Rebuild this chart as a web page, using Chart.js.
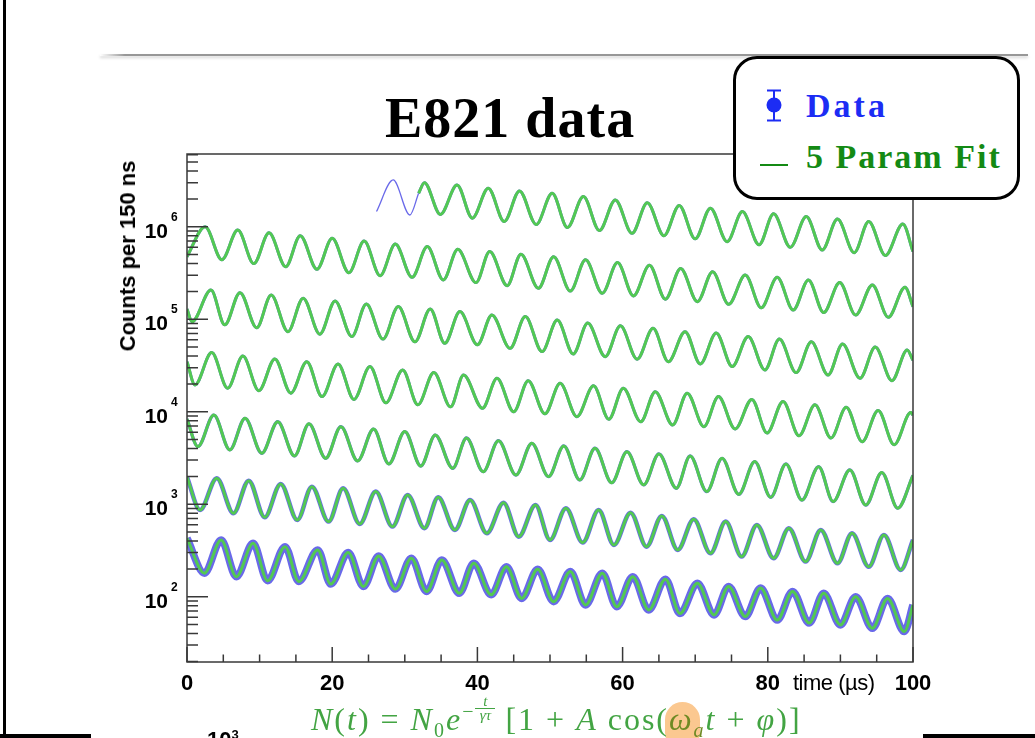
<!doctype html>
<html lang="en">
<head>
<meta charset="utf-8">
<title>E821 data</title>
<script src="https://cdn.jsdelivr.net/npm/chart.js@4.4.1/dist/chart.umd.min.js"></script>
<style>
  html, body { margin: 0; padding: 0; background: #fff; }
  #slide { position: relative; width: 1035px; height: 738px; overflow: hidden; background: #fff; }
  #chart { position: absolute; left: 0; top: 0; }
  .abs { position: absolute; white-space: nowrap; }
  .serif { font-family: "Liberation Serif", "Times New Roman", serif; }
  .sans { font-family: "Liberation Sans", Arial, sans-serif; }
  #title { left: 385px; top: 90px; font-size: 56px; line-height: 56px; font-weight: bold; letter-spacing: 1px; color: #000; }
  #legendBox { left: 733px; top: 56px; width: 287px; height: 144px; box-sizing: border-box; border: 3px solid #000; border-radius: 24px; background: #fff; }
  #legData { left: 806px; top: 89px; font-size: 34px; line-height: 34px; font-weight: bold; letter-spacing: 3px; color: #1c2cf4; }
  #legFit { left: 806px; top: 140px; font-size: 34px; line-height: 34px; font-weight: bold; letter-spacing: 2px; color: #148a14; }
  #legLine { left: 760px; top: 164px; width: 28px; height: 2px; background: #148a14; }
  #ytitle { left: 128px; top: 256px; font-size: 22px; line-height: 22px; font-weight: bold; transform: translate(-50%, -50%) rotate(-90deg); }
  #xtitle { left: 793px; top: 672px; font-size: 22px; line-height: 22px; letter-spacing: -0.5px; }
  #formula { left: 311px; top: 703px; font-size: 32px; line-height: 32px; color: #43a443; letter-spacing: 2px; }
  #formula sub, #formula sup { line-height: 0; font-size: 20px; }
  #formula .frac { display: inline-block; position: relative; width: 20px; height: 0; vertical-align: baseline; }
  #formula .frac span { position: absolute; left: 0; width: 20px; text-align: center; font-size: 15px; line-height: 13px; letter-spacing: 0; }
  #formula .frac .num { top: -35px; border-bottom: 1px solid #43a443; }
  #formula .frac .den { top: -21px; }
  #formula .wa { color: #6f8a24; }
  #hilite { left: 665px; top: 702px; width: 35px; height: 48px; border-radius: 18px; background: #fbc890; }
  #cut3 { left: 207px; top: 729px; font-size: 22px; line-height: 22px; font-weight: bold; }
  #cut3 sup { font-size: 13px; line-height: 0; }
  .bar { position: absolute; background: #000; }
  #topRule { left: 100px; top: 54px; width: 928px; height: 2px;
             background: linear-gradient(to right, rgba(150,150,150,0), #979797 25px);
             box-shadow: 0 2px 3px rgba(0,0,0,0.18); }
</style>
</head>
<body>
<div id="slide">
  <canvas id="chart" width="1035" height="738"></canvas>

  <div class="bar" style="left:3px; top:0; width:3px; height:736px;"></div>
  <div class="bar" style="left:0; top:734px; width:91px; height:4px;"></div>
  <div class="bar" style="left:923px; top:734px; width:112px; height:4px;"></div>
  <div id="topRule" class="abs"></div>

  <div id="title" class="abs serif">E821 data</div>

  <div id="legendBox" class="abs"></div>
  <svg class="abs" style="left:760px; top:88px;" width="30" height="36">
    <line x1="14" y1="2" x2="14" y2="33" stroke="#1c2cf4" stroke-width="2"/>
    <line x1="7" y1="2.5" x2="21" y2="2.5" stroke="#1c2cf4" stroke-width="2"/>
    <line x1="7" y1="32.5" x2="21" y2="32.5" stroke="#1c2cf4" stroke-width="2"/>
    <circle cx="14" cy="17" r="7.5" fill="#1c2cf4"/>
  </svg>
  <div id="legData" class="abs serif">Data</div>
  <div id="legLine" class="abs"></div>
  <div id="legFit" class="abs serif">5 Param Fit</div>

  <div id="ytitle" class="abs sans">Counts per 150 ns</div>
  <div id="xtitle" class="abs sans">time (µs)</div>

  <div id="hilite" class="abs"></div>
  <div id="formula" class="abs serif"><i>N</i>(<i>t</i>) = <i>N</i><sub>0</sub><i>e</i><sup>&minus;</sup><span class="frac"><span class="num"><i>t</i></span><span class="den"><i>γτ</i></span></span> [1 + <i>A</i> cos(<span class="wa"><i>ω</i><sub><i>a</i></sub></span><i>t</i> + <i>φ</i>)]</div>
  <div id="cut3" class="abs sans">10<sup>3</sup></div>
</div>

<script>
// axis ranges (bottom edge ~20 counts, top ~6e6)
const X_MIN = 0, X_MAX = 100;
const Y_MIN = 19.7, Y_MAX = 6.12e6;
const xTickLabels = [0, 20, 40, 60, 80, 100];
const yDecades = [2, 3, 4, 5, 6];

// data seen above the fit: start of the top row (times in us, counts per bin)
const dataTopT = [26.1, 28.4, 30.7, 31.9];
const dataTopN = [1.46e6, 3.21e6, 1.34e6, 2.3e6];

// 5 parameter fit, one wrapped 100 us row at a time (peaks and troughs)
const fit1T = [31.9, 32.7, 34.9, 37.2, 39.3, 41.5, 43.7, 45.8, 48.1, 50.3, 52.4, 54.6, 56.8, 59.0, 61.3, 63.4, 65.7,
  67.8, 70.0, 72.1, 74.4, 76.5, 78.8, 80.8, 83.1, 85.3, 87.5, 89.6, 91.9, 93.9, 96.2, 98.6, 100];
const fit1N = [2.3e6, 3.0e6, 1.36e6, 2.83e6, 1.24e6, 2.61e6, 1.14e6, 2.44e6, 1.06e6, 2.3e6, 9.8e5, 2.12e6, 9.1e5, 1.95e6, 8.5e5, 1.82e6, 8.0e5,
  1.7e6, 7.4e5, 1.59e6, 6.9e5, 1.46e6, 6.4e5, 1.38e6, 6.0e5, 1.29e6, 5.6e5, 1.21e6, 5.25e5, 1.14e6, 4.9e5, 1.07e6, 5.4e5];

const fit2T = [0, 2.5, 4.8, 7.0, 9.2, 11.3, 13.6, 15.6, 17.9, 20.0, 22.3, 24.4, 26.6, 28.7, 31.0, 33.1, 35.3, 37.3, 39.8, 41.7,
  44.1, 46.0, 48.4, 50.5, 52.8, 54.9, 57.2, 59.3, 61.5, 63.7, 65.9, 68.0, 70.3, 72.4, 74.6, 76.9, 79.1, 81.3, 83.5, 85.6,
  87.7, 89.9, 92.1, 94.4, 96.6, 98.9, 100];
const fit2N = [4.75e5, 1.0e6, 4.4e5, 9.2e5, 4.0e5, 8.6e5, 3.7e5, 8.0e5, 3.47e5, 7.5e5, 3.19e5, 7.0e5, 2.96e5, 6.5e5, 2.84e5, 6.1e5, 2.66e5, 5.7e5, 2.49e5, 5.4e5,
  2.31e5, 5.05e5, 2.16e5, 4.75e5, 2.02e5, 4.4e5, 1.91e5, 4.1e5, 1.79e5, 3.84e5, 1.65e5, 3.54e5, 1.55e5, 3.27e5, 1.45e5, 3.01e5, 1.33e5, 2.84e5, 1.26e5, 2.66e5,
  1.18e5, 2.49e5, 1.11e5, 2.35e5, 1.05e5, 2.22e5, 1.37e5];

const fit3T = [0, 0.7, 3.3, 5.2, 7.3, 9.6, 11.6, 13.9, 16.0, 18.3, 20.4, 22.7, 24.7, 27.0, 29.1, 31.4, 33.5, 35.5, 37.6, 40.0,
  42.0, 44.5, 46.6, 48.9, 51.0, 53.2, 55.2, 57.6, 59.7, 62.0, 64.2, 66.3, 68.6, 70.7, 72.9, 75.1, 77.3, 79.6, 81.6, 83.9,
  86.0, 88.3, 90.3, 92.7, 94.8, 97.1, 99.2, 100];
const fit3N = [1.29e5, 9.4e4, 2.07e5, 8.7e4, 1.94e5, 8.1e4, 1.83e5, 7.35e4, 1.69e5, 6.9e4, 1.58e5, 6.5e4, 1.46e5, 6.1e4, 1.37e5, 5.7e4, 1.29e5, 5.5e4, 1.21e5, 5.3e4,
  1.11e5, 4.85e4, 1.07e5, 4.47e4, 9.8e4, 4.22e4, 9.1e4, 3.94e4, 8.5e4, 3.7e4, 8.0e4, 3.48e4, 7.35e4, 3.29e4, 7.1e4, 3.08e4, 6.5e4, 2.83e4, 6.1e4, 2.65e4,
  5.7e4, 2.5e4, 5.4e4, 2.3e4, 5.0e4, 2.17e4, 4.66e4, 3.6e4];

const fit4T = [0, 1.1, 3.4, 5.6, 7.7, 9.9, 12.1, 14.3, 16.5, 18.6, 20.8, 23.0, 25.2, 27.4, 29.7, 31.8, 34.0, 36.3, 38.1, 40.7,
  42.7, 45.0, 47.0, 49.3, 51.4, 53.7, 56.0, 58.1, 60.1, 62.5, 64.5, 66.9, 68.9, 71.2, 73.2, 75.5, 77.8, 79.9, 82.1, 84.3,
  86.5, 88.7, 90.8, 93.0, 95.2, 97.4, 99.7, 100];
const fit4N = [3.48e4, 1.95e4, 4.36e4, 1.8e4, 4.0e4, 1.69e4, 3.72e4, 1.59e4, 3.48e4, 1.46e4, 3.29e4, 1.36e4, 3.08e4, 1.25e4, 2.83e4, 1.19e4, 2.66e4, 1.13e4, 2.5e4, 1.09e4,
  2.3e4, 1.0e4, 2.17e4, 9.5e3, 2.03e4, 8.85e3, 1.91e4, 8.3e3, 1.8e4, 7.8e3, 1.65e4, 7.2e3, 1.59e4, 6.9e3, 1.46e4, 6.5e3, 1.36e4, 5.9e3, 1.29e4, 5.5e3,
  1.19e4, 5.2e3, 1.12e4, 4.75e3, 1.03e4, 4.4e3, 9.8e3, 9.2e3];

const fit5T = [0, 1.5, 3.7, 5.9, 8.0, 10.3, 12.5, 14.8, 16.8, 19.1, 21.2, 23.5, 25.7, 27.8, 30.0, 32.2, 34.2, 36.6, 38.5, 40.8,
  42.9, 45.3, 47.5, 49.8, 51.9, 54.1, 56.2, 58.5, 60.6, 62.9, 65.0, 67.4, 69.3, 71.6, 73.7, 76.0, 78.2, 80.4, 82.5, 84.7,
  87.0, 89.0, 91.3, 93.5, 95.7, 97.9, 100];
const fit5N = [8.35e3, 4.2e3, 9.2e3, 3.87e3, 8.5e3, 3.56e3, 7.8e3, 3.33e3, 7.4e3, 3.14e3, 6.9e3, 2.94e3, 6.5e3, 2.73e3, 6.1e3, 2.59e3, 5.6e3, 2.45e3, 5.2e3, 2.25e3,
  4.87e3, 2.07e3, 4.56e3, 1.99e3, 4.27e3, 1.83e3, 4.03e3, 1.71e3, 3.7e3, 1.62e3, 3.5e3, 1.49e3, 3.33e3, 1.37e3, 3.14e3, 1.28e3, 2.89e3, 1.19e3, 2.73e3, 1.11e3,
  2.55e3, 1.07e3, 2.35e3, 980, 2.2e3, 906, 2.05e3];

const fit6T = [0, 1.8, 4.1, 6.4, 8.5, 10.7, 12.9, 15.2, 17.2, 19.5, 21.5, 23.8, 26.0, 28.3, 30.4, 32.7, 34.6, 36.9, 39.0, 41.3,
  43.6, 45.7, 48.0, 50.0, 52.2, 54.5, 56.7, 58.8, 61.1, 63.3, 65.4, 67.6, 69.8, 72.1, 74.2, 76.4, 78.5, 80.8, 82.9, 85.2,
  87.3, 89.6, 91.6, 93.9, 96.0, 98.3, 100];
const fit6N = [1.97e3, 867, 1.91e3, 800, 1.8e3, 723, 1.66e3, 676, 1.55e3, 649, 1.49e3, 612, 1.37e3, 573, 1.26e3, 551, 1.19e3, 528, 1.11e3, 486,
  1.04e3, 446, 981, 411, 906, 385, 867, 363, 811, 348, 748, 321, 689, 295, 649, 272, 597, 261, 551, 240,
  528, 230, 486, 211, 466, 195, 411];

const fit7T = [0, 2.4, 4.7, 6.8, 9.1, 11.1, 13.5, 15.4, 18.0, 19.8, 22.2, 24.3, 26.4, 28.7, 30.9, 33.0, 35.1, 37.5, 39.5, 41.9,
  44.0, 46.1, 48.3, 50.5, 52.8, 54.9, 57.2, 59.2, 61.4, 63.6, 65.9, 67.9, 70.3, 72.6, 74.6, 76.9, 79.0, 81.3, 83.4, 85.7,
  87.7, 90.0, 92.1, 94.4, 96.5, 98.8, 100];
const fit7N = [429, 180, 411, 165, 378, 149, 348, 146, 321, 137, 300, 129, 276, 121, 261, 114, 250, 109, 230, 105,
  211, 96, 198, 88.5, 187, 81.5, 180, 78, 165, 72, 155, 66, 140, 63.6, 129, 61, 124, 56, 114, 52,
  109, 49.6, 100, 45.6, 96, 42, 81.5];

const fitRows = [[fit1T, fit1N], [fit2T, fit2N], [fit3T, fit3N], [fit4T, fit4N], [fit5T, fit5N], [fit6T, fit6N], [fit7T, fit7N]];

// the data histogram sits on the fit; its scatter grows as the counts drop
const dataSpread = [3, 3, 3, 3, 3.3, 4.5, 7.5];

const FIT = '#52c952';
const DATA = 'rgba(84, 84, 230, 0.88)';

function pts(ts, ns) {
  return ts.map((t, i) => ({ x: t, y: ns[i] }));
}

const common = { pointRadius: 0, fill: false, cubicInterpolationMode: 'monotone', borderJoinStyle: 'round' };
const datasets = [];
fitRows.forEach((r, i) => {
  datasets.push(Object.assign({ data: pts(r[0], r[1]), borderColor: FIT, borderWidth: 3, order: 0 }, common));
  datasets.push(Object.assign({ data: pts(r[0], r[1]), borderColor: DATA, borderWidth: dataSpread[i], order: 1 }, common));
});
datasets.push(Object.assign({ data: pts(dataTopT, dataTopN), borderColor: DATA, borderWidth: 1.3, order: 0 }, common));

// ROOT style frame: ticks inside the box, labels drawn next to them
const rootFrame = {
  id: 'rootFrame',
  afterDatasetsDraw(chart) {
    const { ctx, chartArea: a, scales: { x, y } } = chart;
    ctx.save();
    ctx.strokeStyle = '#383838';
    ctx.lineWidth = 1.5;
    ctx.strokeRect(a.left, a.top, a.right - a.left, a.bottom - a.top);

    ctx.beginPath();
    for (let v = X_MIN; v <= X_MAX; v += 5) {
      const px = x.getPixelForValue(v);
      const len = v % 20 === 0 ? 15 : 7.5;
      ctx.moveTo(px, a.bottom);
      ctx.lineTo(px, a.bottom - len);
    }
    for (let d = 1; d <= 6; d++) {
      for (let m = 1; m <= 9; m++) {
        const v = m * Math.pow(10, d);
        if (v < Y_MIN || v > Y_MAX) continue;
        const py = y.getPixelForValue(v);
        ctx.moveTo(a.left, py);
        ctx.lineTo(a.left + (m === 1 ? 21 : 11), py);
      }
    }
    ctx.stroke();

    ctx.fillStyle = '#000';
    ctx.font = 'bold 22px "Liberation Sans", Arial, sans-serif';
    ctx.textAlign = 'center';
    ctx.textBaseline = 'alphabetic';
    xTickLabels.forEach(v => ctx.fillText(String(v), x.getPixelForValue(v), 690));

    yDecades.forEach(d => {
      const py = y.getPixelForValue(Math.pow(10, d));
      ctx.font = 'bold 21px "Liberation Sans", Arial, sans-serif';
      ctx.textAlign = 'right';
      ctx.fillText('10', 168, py + 11);
      ctx.font = 'bold 12px "Liberation Sans", Arial, sans-serif';
      ctx.textAlign = 'left';
      ctx.fillText(String(d), 171, py - 6);
    });
    ctx.restore();
  }
};

new Chart(document.getElementById('chart').getContext('2d'), {
  type: 'line',
  data: { datasets: datasets },
  options: {
    responsive: false,
    animation: false,
    events: [],
    layout: { padding: { left: 187, right: 122, top: 154, bottom: 76 } },
    scales: {
      x: { type: 'linear', min: X_MIN, max: X_MAX, display: false },
      y: { type: 'logarithmic', min: Y_MIN, max: Y_MAX, bounds: 'data', display: false }
    },
    plugins: { legend: { display: false }, tooltip: { enabled: false } }
  },
  plugins: [rootFrame]
});
</script>
</body>
</html>
